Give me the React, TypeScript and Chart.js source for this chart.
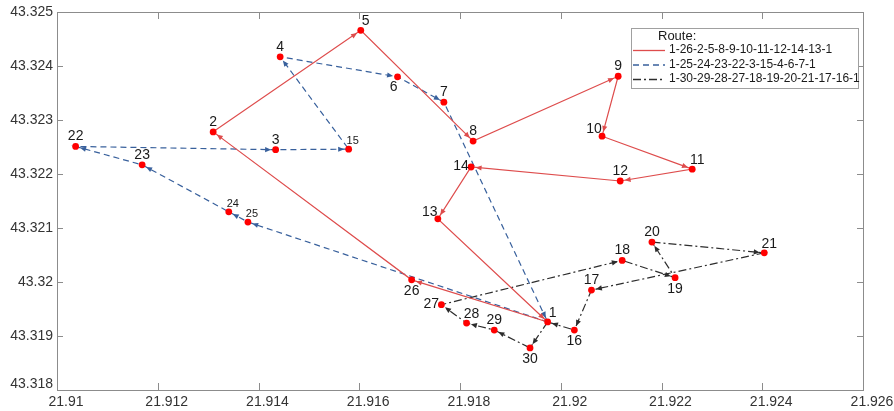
import React, { useEffect, useRef } from 'react';
import { Chart, registerables } from 'chart.js';

Chart.register(...registerables);

// ---------- data ----------
const nodeIds = [1, 2, 3, 4, 5, 6, 7, 8, 9, 10, 11, 12, 13, 14, 15, 16, 17, 18, 19, 20, 21, 22, 23, 24, 25, 26, 27, 28, 29, 30];
const nodeLon = [
  21.91974, 21.9131, 21.91434, 21.91443, 21.91603, 21.91676, 21.91768, 21.91826, 21.92114, 21.92082,
  21.92261, 21.92118, 21.91756, 21.91822, 21.91579, 21.92027, 21.92061, 21.92122, 21.92227, 21.92181,
  21.92404, 21.91037, 21.91169, 21.91341, 21.91379, 21.91704, 21.91763, 21.91813, 21.91868, 21.91939,
];
const nodeLat = [
  43.31926, 43.32278, 43.32245, 43.32417, 43.32466, 43.3238, 43.32333, 43.32261, 43.32381, 43.3227,
  43.32209, 43.32187, 43.32117, 43.32213, 43.32246, 43.31911, 43.31985, 43.3204, 43.32008, 43.32074,
  43.32054, 43.32251, 43.32217, 43.3213, 43.32111, 43.32004, 43.31958, 43.31924, 43.31911, 43.31878,
];
// where each node's number sits relative to its marker
const labelSide = [
  'ne', 'n', 'n', 'n', 'ne', 'sw', 'n', 'n', 'n', 'nw',
  'ne', 'n', 'nw', 'w', 'ne', 's', 'n', 'n', 's', 'n',
  'ne', 'n', 'n', 'ne', 'ne', 's', 'w', 'ne', 'n', 's',
];
const smallLabels = [15, 24, 25];

const routeRed = [1, 26, 2, 5, 8, 9, 10, 11, 12, 14, 13, 1];
const routeBlue = [1, 25, 24, 23, 22, 3, 15, 4, 6, 7, 1];
const routeBlack = [1, 30, 29, 28, 27, 18, 19, 20, 21, 17, 16, 1];
const routeNames = [
  '1-26-2-5-8-9-10-11-12-14-13-1',
  '1-25-24-23-22-3-15-4-6-7-1',
  '1-30-29-28-27-18-19-20-21-17-16-1',
];
const legendTitle = 'Route:';

const xTicks = [21.91, 21.912, 21.914, 21.916, 21.918, 21.92, 21.922, 21.924, 21.926];
const yTicks = [43.318, 43.319, 43.32, 43.321, 43.322, 43.323, 43.324, 43.325];

// ---------- styles ----------
const FONT = '"Liberation Sans", Arial, sans-serif';
const RED = 'rgb(222, 76, 76)';
const BLUE = 'rgb(56, 96, 156)';
const BLACK = 'rgb(45, 45, 45)';
const FRAME = '#8c8c8c';
const TICK_TEXT = '#333333';
const routeColors = [RED, BLUE, BLACK];
const routeDashes: number[][] = [[], [6, 4], [8, 3, 2, 3]];

const fmt = (v: number) => String(parseFloat(Number(v).toFixed(3)));

const sideOffset: Record<string, [number, number]> = {
  n: [0, -10],
  ne: [5, -9],
  s: [0, 11],
  sw: [-4, 10],
  w: [-10, -1],
  nw: [-8, -7],
};

const framePlugin = {
  id: 'frame',
  afterDraw(chart: any) {
    const { ctx, chartArea: a, scales } = chart;
    ctx.save();
    ctx.strokeStyle = FRAME;
    ctx.lineWidth = 1;
    ctx.strokeRect(Math.round(a.left) + 0.5, Math.round(a.top) + 0.5, Math.round(a.right - a.left), Math.round(a.bottom - a.top));
    ctx.beginPath();
    xTicks.forEach((v) => {
      const x = Math.round(scales.x.getPixelForValue(v)) + 0.5;
      ctx.moveTo(x, a.bottom);
      ctx.lineTo(x, a.bottom - 7);
      ctx.moveTo(x, a.top);
      ctx.lineTo(x, a.top + 7);
    });
    yTicks.forEach((v) => {
      const y = Math.round(scales.y.getPixelForValue(v)) + 0.5;
      ctx.moveTo(a.left, y);
      ctx.lineTo(a.left + 6, y);
      ctx.moveTo(a.right, y);
      ctx.lineTo(a.right - 6, y);
    });
    ctx.stroke();

    // tick labels
    ctx.fillStyle = TICK_TEXT;
    ctx.font = `14px ${FONT}`;
    ctx.textBaseline = 'middle';
    ctx.textAlign = 'center';
    xTicks.forEach((v) => {
      const x = scales.x.getPixelForValue(v);
      ctx.fillText(fmt(v), x + 9, a.bottom + 12);
    });
    ctx.textAlign = 'right';
    yTicks.forEach((v, i) => {
      let y = scales.y.getPixelForValue(v);
      if (i === 0) y -= 6;
      ctx.fillText(fmt(v), a.left - 4, y);
    });
    ctx.restore();
  },
};

const arrowPlugin = {
  id: 'arrows',
  afterDatasetDraw(chart: any, args: any) {
    const ds = chart.data.datasets[args.index];
    if (!ds.isRoute) return;
    const pts = args.meta.data;
    const ctx = chart.ctx;
    ctx.save();
    ctx.fillStyle = ds.borderColor;
    for (let i = 1; i < pts.length; i++) {
      const p0 = pts[i - 1];
      const p1 = pts[i];
      const dx = p1.x - p0.x;
      const dy = p1.y - p0.y;
      const len = Math.hypot(dx, dy);
      if (len < 1) continue;
      const ux = dx / len;
      const uy = dy / len;
      const tx = p1.x - ux * 4.5;
      const ty = p1.y - uy * 4.5;
      const hl = 6;
      const hw = 2.6;
      ctx.beginPath();
      ctx.moveTo(tx, ty);
      ctx.lineTo(tx - ux * hl - uy * hw, ty - uy * hl + ux * hw);
      ctx.lineTo(tx - ux * hl + uy * hw, ty - uy * hl - ux * hw);
      ctx.closePath();
      ctx.fill();
    }
    ctx.restore();
  },
};

const labelPlugin = {
  id: 'nodeLabels',
  afterDatasetsDraw(chart: any) {
    const idx = chart.data.datasets.findIndex((d: any) => d.isNodes);
    if (idx < 0) return;
    const meta = chart.getDatasetMeta(idx);
    const ctx = chart.ctx;
    ctx.save();
    ctx.fillStyle = '#1a1a1a';
    ctx.textAlign = 'center';
    ctx.textBaseline = 'middle';
    meta.data.forEach((pt: any, i: number) => {
      const id = nodeIds[i];
      const small = smallLabels.includes(id);
      ctx.font = `${small ? 11 : 14}px ${FONT}`;
      const [ox, oy] = sideOffset[labelSide[i]] || [0, -10];
      ctx.fillText(String(id), pt.x + ox + (small ? -1 : 0), pt.y + oy + (small ? 1 : 0));
    });
    ctx.restore();
  },
};

const legendPlugin = {
  id: 'routeLegend',
  afterDraw(chart: any) {
    const ctx = chart.ctx;
    const a = chart.chartArea;
    const right = a.right - 5;
    const left = right - 227;
    const top = a.top + 16;
    const h = 60;
    ctx.save();
    ctx.fillStyle = '#ffffff';
    ctx.fillRect(left, top, right - left, h);
    ctx.strokeStyle = '#a0a0a0';
    ctx.lineWidth = 1;
    ctx.strokeRect(Math.round(left) + 0.5, Math.round(top) + 0.5, Math.round(right - left), h);
    ctx.fillStyle = '#1a1a1a';
    ctx.textBaseline = 'middle';
    ctx.textAlign = 'left';
    ctx.font = `13px ${FONT}`;
    ctx.fillText(legendTitle, left + 27, top + 8);
    ctx.font = `12px ${FONT}`;
    routeNames.forEach((name, i) => {
      const y = top + 22 + i * 14.5;
      ctx.strokeStyle = routeColors[i];
      ctx.lineWidth = 1.3;
      ctx.setLineDash(routeDashes[i]);
      ctx.beginPath();
      ctx.moveTo(left + 2, y + 0.5);
      ctx.lineTo(left + 34, y + 0.5);
      ctx.stroke();
      ctx.setLineDash([]);
      ctx.fillStyle = '#1a1a1a';
      ctx.fillText(name, left + 38, y);
    });
    ctx.restore();
  },
};

function routePoints(route: number[]) {
  return route.map((id) => ({ x: nodeLon[id - 1], y: nodeLat[id - 1] }));
}

export default function App() {
  const ref = useRef<HTMLCanvasElement | null>(null);

  useEffect(() => {
    document.body.style.margin = '0';
    const canvas = ref.current;
    if (!canvas) return;
    const routes = [routeRed, routeBlue, routeBlack];
    const chart = new Chart(canvas, {
      type: 'scatter',
      data: {
        datasets: [
          {
            label: 'nodes',
            isNodes: true,
            data: nodeIds.map((_, i) => ({ x: nodeLon[i], y: nodeLat[i] })),
            pointRadius: 3.4,
            pointBackgroundColor: '#ff0000',
            pointBorderWidth: 0,
            showLine: false,
            order: 0,
          } as any,
          ...routes.map((r, i) => ({
            label: routeNames[i],
            isRoute: true,
            data: routePoints(r),
            showLine: true,
            borderColor: routeColors[i],
            borderWidth: 1.2,
            borderDash: routeDashes[i],
            pointRadius: 0,
            fill: false,
            tension: 0,
            order: 1 + i,
          } as any)),
        ],
      },
      options: {
        responsive: false,
        animation: false,
        events: [],
        layout: { padding: { top: 12, right: 31, left: 0, bottom: 0 } },
        plugins: {
          legend: { display: false },
          tooltip: { enabled: false },
        },
        scales: {
          x: {
            type: 'linear',
            min: 21.91,
            max: 21.926,
            afterBuildTicks: (s: any) => {
              s.ticks = xTicks.map((v) => ({ value: v }));
            },
            afterFit: (s: any) => {
              s.height = 21;
            },
            ticks: { display: false },
            grid: { display: false, drawTicks: false },
            border: { display: false },
          },
          y: {
            type: 'linear',
            min: 43.318,
            max: 43.325,
            afterBuildTicks: (s: any) => {
              s.ticks = yTicks.map((v) => ({ value: v }));
            },
            afterFit: (s: any) => {
              s.width = 57;
            },
            ticks: { display: false },
            grid: { display: false, drawTicks: false },
            border: { display: false },
          },
        },
      } as any,
      plugins: [framePlugin, arrowPlugin, labelPlugin, legendPlugin],
    });
    return () => chart.destroy();
  }, []);

  return (
    <div style={{ width: 894, height: 411, background: '#ffffff' }}>
      <canvas ref={ref} width={894} height={411} style={{ display: 'block' }} />
    </div>
  );
}
